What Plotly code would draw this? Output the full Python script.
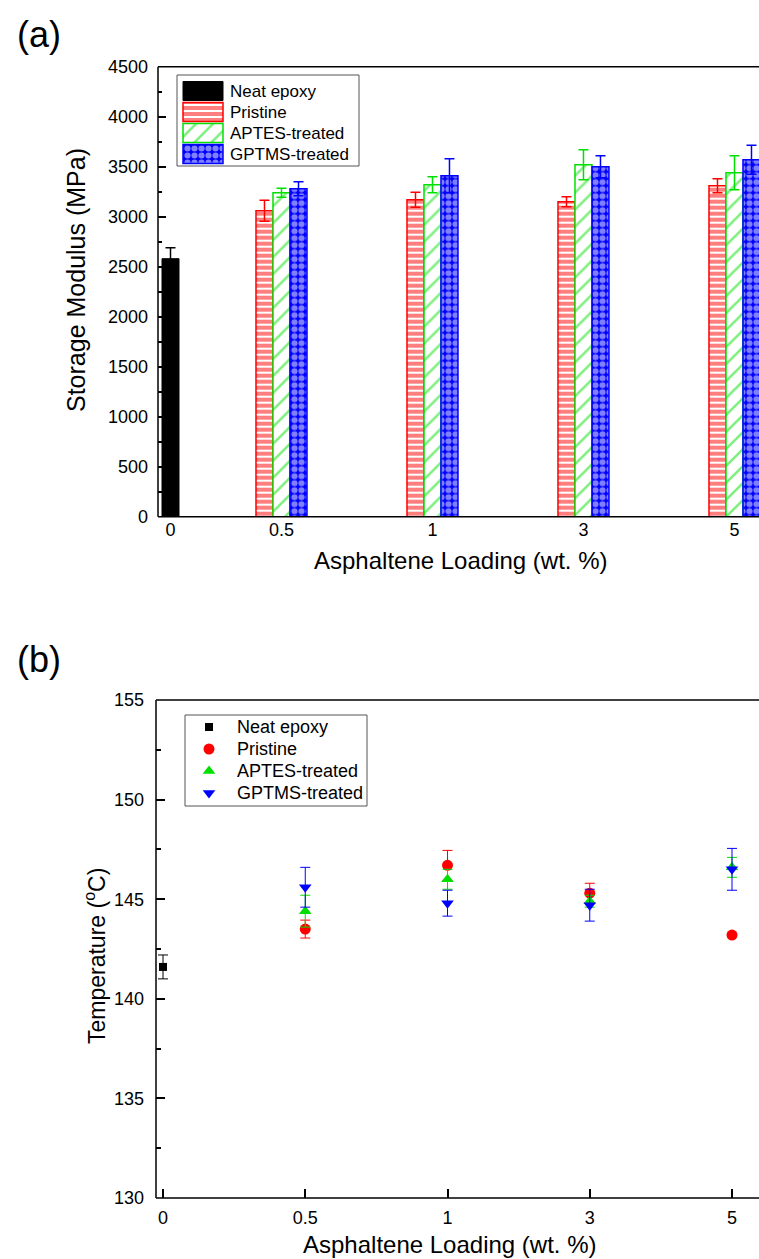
import plotly.graph_objects as go

# ---------------- data ----------------
loadings = ["0", "0.5", "1", "3", "5"]          # wt. % asphaltene
series_names = ["Neat epoxy", "Pristine", "APTES-treated", "GPTMS-treated"]

# (a) storage modulus, MPa
neat_modulus = [2580]
neat_modulus_err = [110]
pristine_modulus = [3060, 3170, 3150, 3310]
pristine_modulus_err = [105, 75, 50, 70]
aptes_modulus = [3240, 3320, 3520, 3440]
aptes_modulus_err = [45, 80, 150, 170]
gptms_modulus = [3280, 3410, 3500, 3570]
gptms_modulus_err = [70, 170, 110, 145]

# (b) glass transition temperature, degC
neat_tg = [141.6]
neat_tg_err = [0.6]
pristine_tg = [143.5, 146.7, 145.3, 143.2]
pristine_tg_err = [0.45, 0.75, 0.5, 0.1]
aptes_tg = [144.4, 146.0, 144.9, 146.6]
aptes_tg_err = [0.8, 0.5, 0.3, 0.5]
gptms_tg = [145.6, 144.8, 144.7, 146.5]
gptms_tg_err = [1.0, 0.65, 0.8, 1.05]

# ---------------- styling / layout ----------------
W, H = 759, 1259
FONT = "Liberation Sans, Arial, sans-serif"
RED, GREEN, BLUE, BLACK = "#ff0000", "#00e000", "#0000ff", "#000000"
FRAME = "black"


def fx(px):
    return px / W


def fy(py):
    return 1 - py / H


# panel (a): one x unit = spacing between loading groups
UNIT_A = 151.0
BAR_W = 17.0 / UNIT_A
pos_a = [0.0] + [0.735 + k for k in range(len(loadings) - 1)]
grp_a = pos_a[1:]

# panel (b): evenly spaced loading positions
UNIT_B = 142.25
pos_b = list(range(len(loadings)))
grp_b = pos_b[1:]

fig = go.Figure()


def err(arr, color, thick=1.5):
    return dict(type="data", array=arr, color=color, thickness=thick, width=5, visible=True)


pristine_marker = dict(color="white", line=dict(color=RED, width=1.5),
                       pattern=dict(shape="-", fgcolor=RED, bgcolor="white", size=6,
                                    solidity=0.667, fillmode="overlay"))
aptes_marker = dict(color="white", line=dict(color=GREEN, width=1.5),
                    pattern=dict(shape="/", fgcolor=GREEN, bgcolor="white", size=12,
                                 solidity=0.22, fillmode="overlay"))
gptms_marker = dict(color=BLUE, line=dict(color=BLUE, width=1.5),
                    pattern=dict(shape=".", fgcolor="white", bgcolor=BLUE, size=7,
                                 solidity=0.6, fillmode="overlay"))
neat_marker = dict(color=BLACK, line=dict(color=BLACK, width=1))

bar_styles = [neat_marker, pristine_marker, aptes_marker, gptms_marker]

# ---- panel (a) bars ----
fig.add_trace(go.Bar(x=[pos_a[0]], y=neat_modulus, width=BAR_W, marker=neat_marker,
                     error_y=err(neat_modulus_err, BLACK), name=series_names[0],
                     showlegend=False, xaxis="x", yaxis="y"))
for shift, vals, errs, mk, col, name in [
    (-BAR_W, pristine_modulus, pristine_modulus_err, pristine_marker, RED, series_names[1]),
    (0.0, aptes_modulus, aptes_modulus_err, aptes_marker, GREEN, series_names[2]),
    (BAR_W, gptms_modulus, gptms_modulus_err, gptms_marker, BLUE, series_names[3]),
]:
    fig.add_trace(go.Bar(x=[p + shift for p in grp_a], y=vals, width=BAR_W, marker=mk,
                         error_y=err(errs, col), name=name, showlegend=False,
                         xaxis="x", yaxis="y"))

# ---- panel (a) key, drawn in a small inset axis ----
LEGA = dict(x0=177, x1=359, y0=75, y1=166, row0=16, step=21)
SW_X0, SW_LEN, SW_H, TXT_XA = 6, 40, 19, 51
for i, (name, mk) in enumerate(zip(series_names, bar_styles)):
    ry = LEGA["row0"] + LEGA["step"] * i
    fig.add_trace(go.Bar(orientation="h", y=[ry], x=[SW_LEN], base=[SW_X0], width=SW_H,
                         marker=mk, showlegend=False, hoverinfo="skip",
                         xaxis="x3", yaxis="y3"))
    fig.add_annotation(x=TXT_XA, y=ry, xref="x3", yref="y3", text=name, showarrow=False,
                       xanchor="left", yanchor="middle",
                       font=dict(family=FONT, size=17, color="black"))

# ---- panel (b) points ----
point_styles = [
    (BLACK, "square", 8),
    (RED, "circle", 11),
    (GREEN, "triangle-up", 11),
    (BLUE, "triangle-down", 11),
]
tg_sets = [
    ([pos_b[0]], neat_tg, neat_tg_err),
    (grp_b, pristine_tg, pristine_tg_err),
    (grp_b, aptes_tg, aptes_tg_err),
    (grp_b, gptms_tg, gptms_tg_err),
]
for (xs, ys, es), (col, sym, sz), name in zip(tg_sets, point_styles, series_names):
    fig.add_trace(go.Scatter(x=xs, y=ys, mode="markers", name=name, showlegend=False,
                             marker=dict(color=col, symbol=sym, size=sz, line=dict(width=0)),
                             error_y=err(es, col, thick=1), xaxis="x2", yaxis="y2",
                             cliponaxis=False))

# ---- panel (b) key, drawn in a small inset axis ----
LEGB = dict(x0=185, x1=367, y0=715, y1=806, row0=12, step=22)
SYM_XB, TXT_XB = 24, 50
for i, ((col, sym, sz), name) in enumerate(zip(point_styles, series_names)):
    ry = LEGB["row0"] + LEGB["step"] * i
    fig.add_trace(go.Scatter(x=[SYM_XB], y=[ry], mode="markers", showlegend=False,
                             hoverinfo="skip",
                             marker=dict(color=col, symbol=sym, size=sz, line=dict(width=0)),
                             xaxis="x4", yaxis="y4"))
    fig.add_annotation(x=TXT_XB, y=ry, xref="x4", yref="y4", text=name, showarrow=False,
                       xanchor="left", yanchor="middle",
                       font=dict(family=FONT, size=18, color="black"))

for leg in (LEGA, LEGB):
    fig.add_shape(type="rect", xref="paper", yref="paper", x0=fx(leg["x0"]), x1=fx(leg["x1"]),
                  y0=fy(leg["y1"]), y1=fy(leg["y0"]), line=dict(color="#555555", width=1),
                  fillcolor="rgba(0,0,0,0)", layer="above")

# ---------------- axes ----------------
A_LEFT, A_TOP, A_BOT = 158, 66.7, 516.7
B_LEFT, B_TOP, B_BOT = 156, 700, 1198

# plot frames (left, bottom and top edges; the right edge lies off the page)
for left, top, bot in [(A_LEFT, A_TOP, A_BOT), (B_LEFT, B_TOP, B_BOT)]:
    for x0, y0, x1, y1 in [(left, top, left, bot), (left, bot, W + 5, bot),
                           (left, top, W + 5, top)]:
        fig.add_shape(type="line", xref="paper", yref="paper", x0=fx(x0), y0=fy(y0),
                      x1=fx(x1), y1=fy(y1), line=dict(color=FRAME, width=1.5), layer="above")

tickfont = dict(family=FONT, size=18, color="black")
common = dict(showgrid=False, zeroline=False, automargin=False, showline=False)

fig.update_layout(
    width=W, height=H,
    margin=dict(l=0, r=0, t=0, b=0, pad=0, autoexpand=False),
    paper_bgcolor="white", plot_bgcolor="white",
    font=dict(family=FONT, color="black"),
    barmode="overlay",
    showlegend=False,
    xaxis=dict(domain=[fx(A_LEFT), 1], anchor="y",
               range=[(A_LEFT - 170.5) / UNIT_A, (W - 170.5) / UNIT_A],
               tickmode="array", tickvals=pos_a, ticktext=loadings, ticks="",
               tickfont=tickfont, ticklabelstandoff=0, **common),
    yaxis=dict(domain=[fy(A_BOT), fy(A_TOP)], anchor="x", range=[0, 4500],
               tickmode="linear", tick0=0, dtick=500, ticks="inside", ticklen=8,
               tickwidth=1.5, tickcolor="black", tickfont=tickfont,
               ticklabelstandoff=9,
               minor=dict(ticks="inside", dtick=250, ticklen=4, tickwidth=1.5,
                          tickcolor="black", showgrid=False),
               **common),
    xaxis2=dict(domain=[fx(B_LEFT), 1], anchor="y2",
                range=[(B_LEFT - 163) / UNIT_B, (W - 163) / UNIT_B],
                tickmode="array", tickvals=pos_b, ticktext=loadings, ticks="inside",
                ticklen=9, tickwidth=1.5, tickcolor="black", tickfont=tickfont,
                ticklabelstandoff=7, **common),
    yaxis2=dict(domain=[fy(B_BOT), fy(B_TOP)], anchor="x2", range=[130, 155],
                tickmode="linear", tick0=130, dtick=5, ticks="inside", ticklen=9,
                tickwidth=1.5, tickcolor="black", tickfont=tickfont,
                ticklabelstandoff=11,
                minor=dict(ticks="inside", dtick=2.5, ticklen=5, tickwidth=1.5,
                           tickcolor="black", showgrid=False),
                **common),
    xaxis3=dict(domain=[fx(LEGA["x0"]), fx(LEGA["x1"])], anchor="y3",
                range=[0, LEGA["x1"] - LEGA["x0"]], visible=False, fixedrange=True,
                automargin=False),
    yaxis3=dict(domain=[fy(LEGA["y1"]), fy(LEGA["y0"])], anchor="x3",
                range=[LEGA["y1"] - LEGA["y0"], 0], visible=False, fixedrange=True,
                automargin=False),
    xaxis4=dict(domain=[fx(LEGB["x0"]), fx(LEGB["x1"])], anchor="y4",
                range=[0, LEGB["x1"] - LEGB["x0"]], visible=False, fixedrange=True,
                automargin=False),
    yaxis4=dict(domain=[fy(LEGB["y1"]), fy(LEGB["y0"])], anchor="x4",
                range=[LEGB["y1"] - LEGB["y0"], 0], visible=False, fixedrange=True,
                automargin=False),
)

# ---------------- panel labels and axis titles ----------------
label_font = dict(family=FONT, size=36, color="black")
texts = [
    ("(a)", 15, 35, 0, "left", label_font),
    ("(b)", 15, 660, 0, "left", label_font),
    ("Asphaltene Loading (wt. %)", 461, 560, 0, "center", dict(family=FONT, size=24)),
    ("Storage Modulus (MPa)", 76, 280, -90, "center", dict(family=FONT, size=25)),
    ("Asphaltene Loading (wt. %)", 450, 1244, 0, "center", dict(family=FONT, size=24)),
    ("Temperature (<sup>o</sup>C)", 95, 956, -90, "center", dict(family=FONT, size=23)),
]
for txt, x, y, ang, xa, fnt in texts:
    fnt = dict(fnt, color="black")
    fig.add_annotation(x=fx(x), y=fy(y), xref="paper", yref="paper", text=txt,
                       showarrow=False, textangle=ang, xanchor=xa, yanchor="middle",
                       font=fnt)

fig.write_html("out.html")
